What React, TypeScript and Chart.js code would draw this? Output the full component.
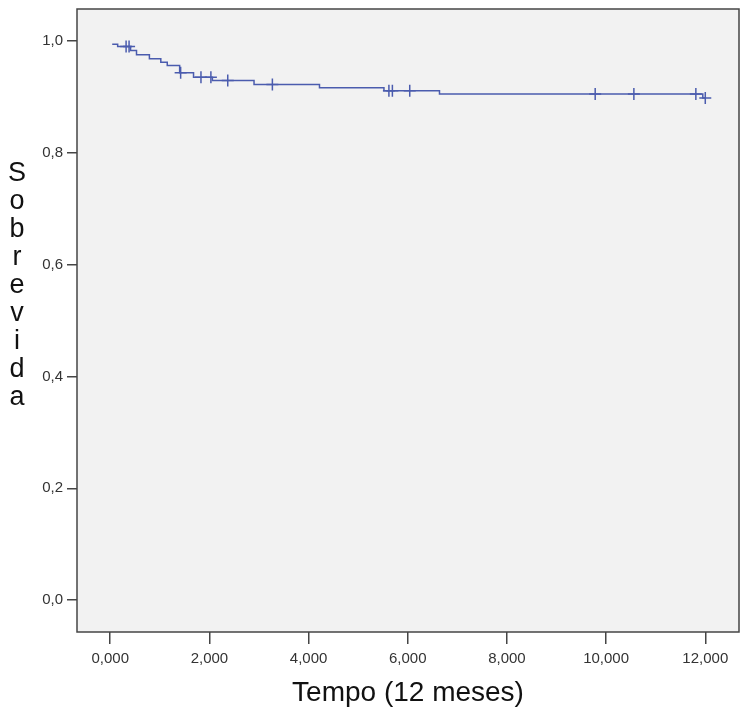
import React, { useEffect, useRef } from "react";
import { Chart, registerables } from "chart.js";

Chart.register(...registerables);

// Kaplan-Meier curve: event times (12-month units) and survival after each step
const eventTimes = [0.04, 0.15, 0.41, 0.53, 0.79, 1.02, 1.15, 1.4, 1.68, 2.06, 2.9, 4.22, 5.52, 6.64, 11.95, 12.0];
const survival = [0.994, 0.99, 0.983, 0.975, 0.968, 0.962, 0.956, 0.943, 0.935, 0.929, 0.922, 0.916, 0.911, 0.905, 0.898, 0.898];
// censored observations
const censorTimes = [0.32, 0.38, 1.42, 1.83, 2.03, 2.37, 3.27, 5.62, 5.69, 6.04, 9.78, 10.56, 11.81, 12.0];

const xTicks = [0, 2, 4, 6, 8, 10, 12];
const yTicks = [0, 0.2, 0.4, 0.6, 0.8, 1.0];
const yTitleLetters = ["S", "o", "b", "r", "e", "v", "i", "d", "a"];
const xTitle = "Tempo (12 meses)";

const FONT = "'Liberation Sans', Arial, sans-serif";
const LINE = "#4b5cae";
const AXIS = "#454545";

function survivalAt(t: number): number {
  let v = 1;
  for (let i = 0; i < eventTimes.length; i++) {
    if (eventTimes[i] <= t) v = survival[i];
  }
  return v;
}

const plotPlugin = {
  id: "plotFrame",
  beforeDraw(chart: any) {
    const { ctx, chartArea: a } = chart;
    ctx.save();
    ctx.fillStyle = "#f2f2f2";
    ctx.fillRect(a.left, a.top, a.right - a.left, a.bottom - a.top);
    ctx.restore();
  },
  afterDraw(chart: any) {
    const { ctx, chartArea: a } = chart;
    ctx.save();
    ctx.strokeStyle = AXIS;
    ctx.lineWidth = 1.5;
    ctx.strokeRect(a.left, a.top, a.right - a.left, a.bottom - a.top);
    // stacked vertical y-axis title
    ctx.fillStyle = "#111";
    ctx.font = `27px ${FONT}`;
    ctx.textAlign = "center";
    ctx.textBaseline = "alphabetic";
    yTitleLetters.forEach((ch, i) => {
      ctx.fillText(ch, 17, 181 + i * 28);
    });
    ctx.restore();
  },
};

export default function App() {
  const ref = useRef<HTMLCanvasElement | null>(null);

  useEffect(() => {
    if (!ref.current) return;
    const curve = eventTimes.map((t, i) => ({ x: t, y: survival[i] }));
    const censored = censorTimes.map((t) => ({ x: t, y: survivalAt(t) }));

    const chart = new Chart(ref.current, {
      type: "scatter",
      data: {
        datasets: [
          {
            label: "Sobrevida",
            data: curve,
            showLine: true,
            stepped: "before",
            borderColor: LINE,
            borderWidth: 1.5,
            pointRadius: 0,
            fill: false,
          },
          {
            label: "Censurado",
            data: censored,
            showLine: false,
            pointStyle: "cross",
            pointRadius: 6,
            borderColor: LINE,
            backgroundColor: LINE,
            pointBorderWidth: 1.5,
          },
        ],
      },
      options: {
        responsive: false,
        animation: false,
        devicePixelRatio: 1,
        layout: { padding: { top: 9, right: 11, left: 0, bottom: 0 } },
        plugins: {
          legend: { display: false },
          tooltip: { enabled: false },
          title: { display: false },
        },
        scales: {
          x: {
            type: "linear",
            min: -0.67,
            max: 12.68,
            afterBuildTicks: (s: any) => {
              s.ticks = xTicks.map((v) => ({ value: v }));
            },
            afterFit: (s: any) => {
              s.height = 81;
              s.paddingLeft = 0;
              s.paddingRight = 0;
            },
            border: { display: false },
            grid: {
              display: true,
              drawOnChartArea: false,
              drawTicks: true,
              tickLength: 12,
              color: AXIS,
              lineWidth: 1.5,
            },
            ticks: {
              padding: 6,
              color: "#333",
              font: { family: FONT, size: 15 },
              maxRotation: 0,
              callback: (v: any) => Number(v).toFixed(3).replace(".", ","),
            },
            title: {
              display: true,
              text: xTitle,
              color: "#111",
              font: { family: FONT, size: 28 },
              padding: { top: 0, bottom: 3 },
            },
          },
          y: {
            type: "linear",
            min: -0.057,
            max: 1.057,
            afterBuildTicks: (s: any) => {
              s.ticks = yTicks.map((v) => ({ value: v }));
            },
            afterFit: (s: any) => {
              s.width = 77;
              s.paddingTop = 0;
              s.paddingBottom = 0;
            },
            border: { display: false },
            grid: {
              display: true,
              drawOnChartArea: false,
              drawTicks: true,
              tickLength: 10,
              color: AXIS,
              lineWidth: 1.5,
            },
            ticks: {
              padding: 4,
              color: "#333",
              font: { family: FONT, size: 15 },
              callback: (v: any) => Number(v).toFixed(1).replace(".", ","),
            },
          },
        },
      },
      plugins: [plotPlugin],
    });
    return () => chart.destroy();
  }, []);

  return (
    <div style={{ position: "absolute", left: 0, top: 0, width: 750, height: 713, background: "#fff" }}>
      <canvas ref={ref} width={750} height={713} style={{ width: 750, height: 713, display: "block" }} />
    </div>
  );
}
